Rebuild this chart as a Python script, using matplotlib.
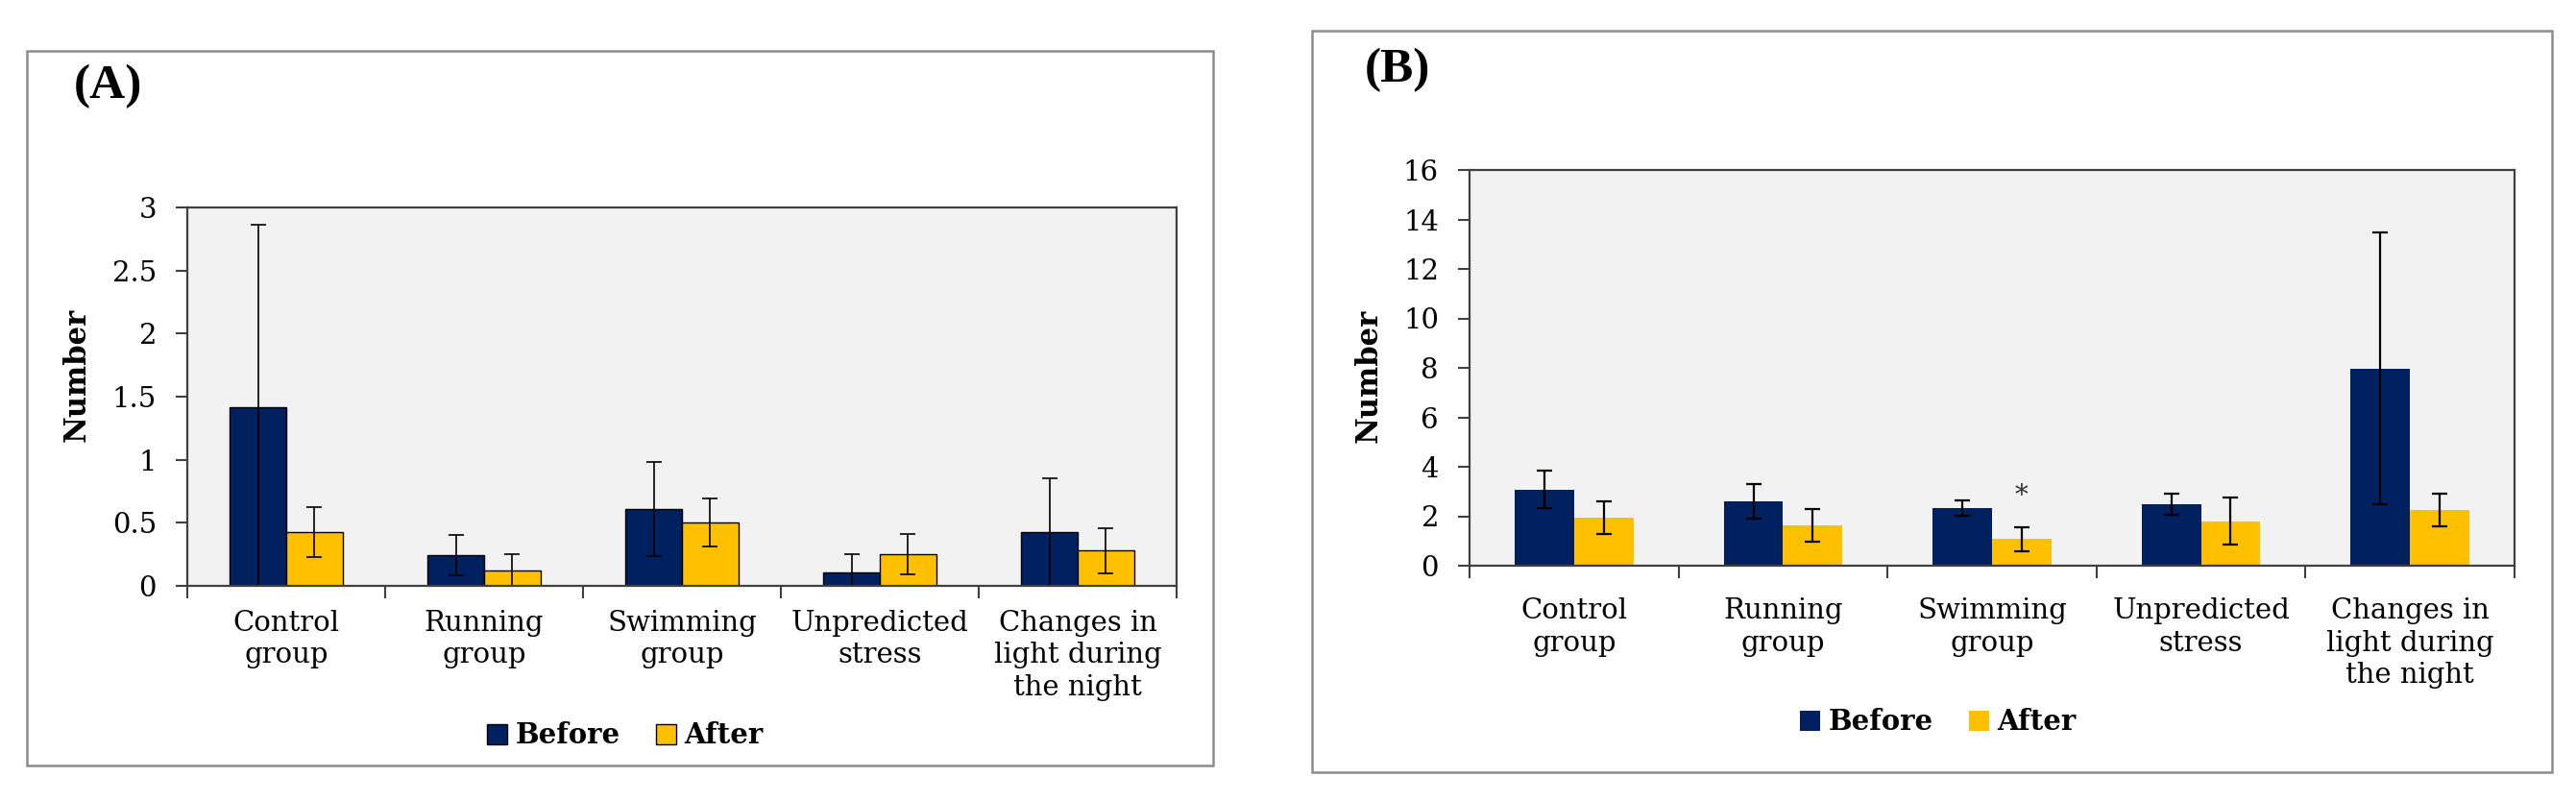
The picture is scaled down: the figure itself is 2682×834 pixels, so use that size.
import numpy as np
import matplotlib
matplotlib.use("Agg")
import matplotlib.pyplot as plt
from matplotlib.patches import Rectangle, Patch


# Data

categories = ["Control\ngroup", "Running\ngroup", "Swimming\ngroup",
              "Unpredicted\nstress", "Changes in\nlight during\nthe night"]
series_names = ["Before", "After"]

a_before = [1.42, 0.24, 0.61, 0.11, 0.425]
a_before_err = [1.44, 0.16, 0.375, 0.14, 0.425]
a_after = [0.425, 0.125, 0.50, 0.25, 0.28]
a_after_err = [0.20, 0.125, 0.19, 0.16, 0.18]
a_yticks = [0, 0.5, 1, 1.5, 2, 2.5, 3]
a_yticklabels = ["0", "0.5", "1", "1.5", "2", "2.5", "3"]

b_before = [3.08, 2.60, 2.33, 2.48, 7.98]
b_before_err = [0.75, 0.70, 0.30, 0.43, 5.5]
b_after = [1.94, 1.63, 1.07, 1.80, 2.27]
b_after_err = [0.65, 0.67, 0.50, 0.95, 0.66]
b_yticks = [0, 2, 4, 6, 8, 10, 12, 14, 16]
b_yticklabels = [str(t) for t in b_yticks]

# significance mark: (category index, y value)
b_star = (2, 2.8)

NAVY = "#002060"
GOLD = "#FFC000"
W, H = 2682, 834

plt.rcParams["font.family"] = ["DejaVu Serif"]


def px_box(x0, y0, x1, y1):
    """ pixel box (top-left origin) -> figure fraction [left, bottom, width, height] """
    return [x0 / W, 1 - y1 / H, (x1 - x0) / W, (y1 - y0) / H]


def draw_panel(fig, ax_box, frame_box, before, before_err, after, after_err,
               yticks, yticklabels, label, label_xy, ylabel_xy, legend_xy,
               edge, tickpad, err_lw):
    # grey frame around the whole panel
    fx0, fy0, fx1, fy1 = frame_box
    fig.patches.append(Rectangle((fx0 / W, 1 - fy1 / H), (fx1 - fx0) / W, (fy1 - fy0) / H,
                                 transform=fig.transFigure, fill=False,
                                 edgecolor="#8c8c8c", linewidth=1.8))

    ax = fig.add_axes(px_box(*ax_box))
    ax.set_facecolor("#F2F2F2")
    x = np.arange(len(categories))
    w = 0.284
    lw = 1.0 if edge else 0
    ekw = dict(elinewidth=err_lw, capthick=err_lw, ecolor="black")
    ax.bar(x - w / 2, before, width=w, color=NAVY, edgecolor="black" if edge else NAVY,
           linewidth=lw, yerr=before_err, capsize=6, error_kw=ekw, label=series_names[0])
    ax.bar(x + w / 2, after, width=w, color=GOLD, edgecolor="black" if edge else GOLD,
           linewidth=lw, yerr=after_err, capsize=6, error_kw=ekw, label=series_names[1])

    ax.set_xlim(-0.5, len(categories) - 0.5)
    ax.set_ylim(yticks[0], yticks[-1])
    ax.set_yticks(yticks)
    ax.set_yticklabels(yticklabels, fontsize=21)

    # major ticks between groups, labels on minor ticks
    ax.set_xticks(np.arange(-0.5, len(categories), 1.0))
    ax.set_xticklabels([])
    ax.set_xticks(x, categories, minor=True)
    ax.tick_params(axis="x", which="minor", length=0, pad=tickpad, labelsize=21)
    for t in ax.get_xticklabels(minor=True):
        t.set_linespacing(1.25)
    ax.tick_params(axis="x", which="major", length=9, width=1.5, color="#404040")
    ax.tick_params(axis="y", length=9, width=1.5, color="#404040", pad=14)

    for s in ax.spines.values():
        s.set_color("#404040")
        s.set_linewidth(1.6)

    ax.set_ylabel("Number", fontsize=22, fontweight="bold")
    ax.yaxis.set_label_coords(*ylabel_xy)

    fig.text(label_xy[0] / W, 1 - label_xy[1] / H, label, fontsize=37,
             family="Liberation Serif", fontweight="bold", ha="center", va="center")

    handles = [Patch(facecolor=NAVY, edgecolor="black" if edge else NAVY, linewidth=lw),
               Patch(facecolor=GOLD, edgecolor="black" if edge else GOLD, linewidth=lw)]
    fig.legend(handles, series_names, loc="center", ncol=2, frameon=False,
               bbox_to_anchor=(legend_xy[0] / W, 1 - legend_xy[1] / H),
               prop=dict(size=21, weight="bold"), handlelength=0.7, handleheight=0.7,
               handletextpad=0.3, columnspacing=1.3)
    return ax


fig = plt.figure(figsize=(W / 100, H / 100), dpi=100)

ax_a = draw_panel(fig, (195, 216, 1225, 610), (28, 53, 1263, 797),
                  a_before, a_before_err, a_after, a_after_err,
                  a_yticks, a_yticklabels, "(A)", (112, 90), (-0.096, 0.558), (651, 766),
                  edge=True, tickpad=18, err_lw=1.2)

ax_b = draw_panel(fig, (1530, 177, 2618, 589), (1366, 32, 2657, 804),
                  b_before, b_before_err, b_after, b_after_err,
                  b_yticks, b_yticklabels, "(B)", (1455, 73), (-0.082, 0.48), (2018, 752),
                  edge=False, tickpad=24, err_lw=1.6)

# asterisk over the swimming group "after" bar
ax_b.text(b_star[0] + 0.284 / 2, b_star[1], "*", fontsize=20, ha="center", va="center",
          color="#333333")

fig.savefig("out.png", dpi=100)
